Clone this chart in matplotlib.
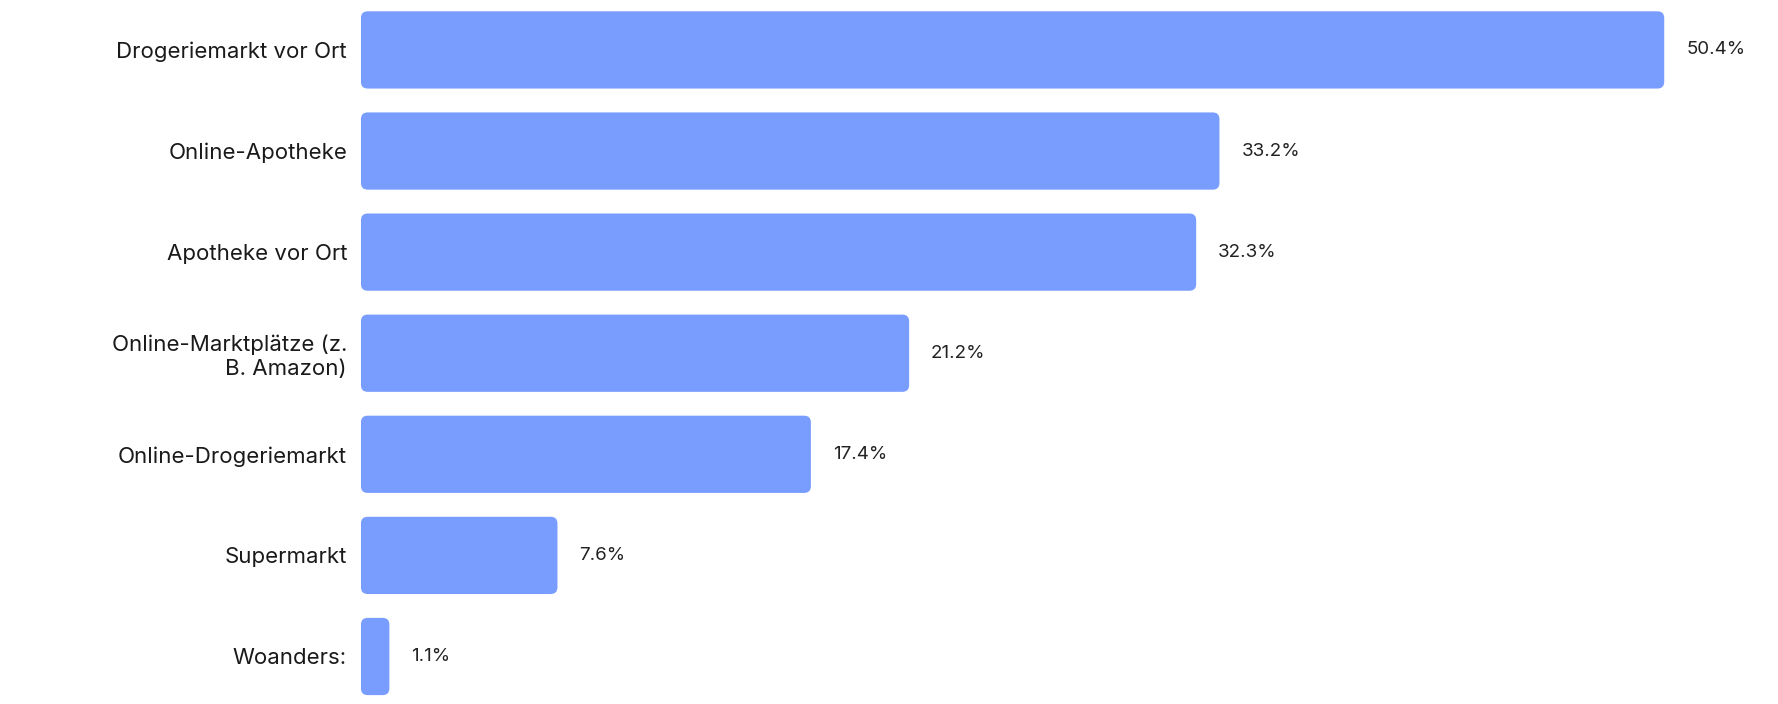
import matplotlib.pyplot as plt
from matplotlib.patches import FancyBboxPatch

categories = ["Drogeriemarkt vor Ort", "Online-Apotheke", "Apotheke vor Ort",
              "Online-Marktplätze (z.\nB. Amazon)", "Online-Drogeriemarkt",
              "Supermarkt", "Woanders:"]
values = [50.4, 33.2, 32.3, 21.2, 17.4, 7.6, 1.1]

plt.rcParams['font.family'] = ['Inter', 'DejaVu Sans']
fig = plt.figure(figsize=(17.78, 7.04), dpi=100)
ax = fig.add_axes([0.203, 0.0, 0.797, 1.0])

height = 0.764
ax.set_xlim(0, 54.8)
ax.set_ylim(6.47, -0.494)
for i, v in enumerate(values):
    box = FancyBboxPatch((0, i - height / 2), v, height,
                         boxstyle="round,pad=0,rounding_size=0.26",
                         mutation_aspect=0.257, fc="#789DFF", ec="none")
    ax.add_patch(box)
    ax.text(v + 0.85, i, f"{v}%", va="center", ha="left",
            fontsize=13.5, color="#222222")

ax.set_yticks(range(len(categories)))
ax.set_yticklabels(categories, fontsize=16, color="#1a1a1a")
ax.tick_params(axis='y', length=0, pad=10)
ax.set_xticks([])
for s in ax.spines.values():
    s.set_visible(False)

fig.savefig("out.png", dpi=100)
